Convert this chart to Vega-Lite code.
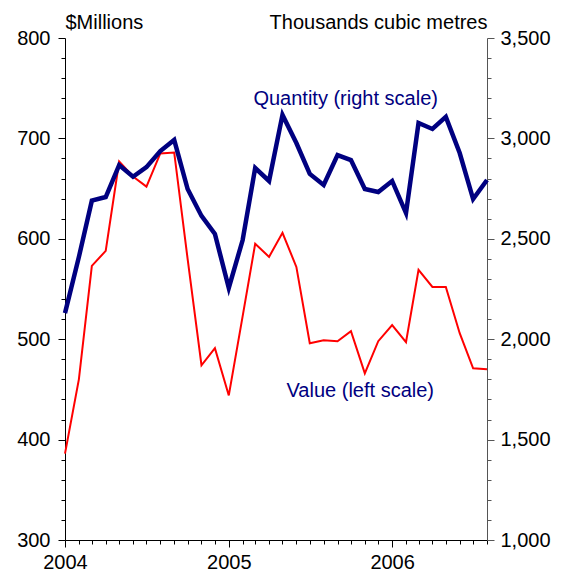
{
  "$schema": "https://vega.github.io/schema/vega-lite/v6.json",
  "width": 422,
  "height": 502,
  "autosize": {"type": "none"},
  "padding": {"left": 65, "top": 38, "right": 74, "bottom": 32},
  "background": "white",
  "config": {
    "view": {"stroke": null},
    "font": "Liberation Sans",
    "axis": {
      "labelFont": "Liberation Sans",
      "titleFont": "Liberation Sans",
      "labelFontSize": 20,
      "titleFontSize": 20,
      "titleFontWeight": "normal",
      "labelColor": "black",
      "titleColor": "black",
      "grid": false,
      "domainColor": "black",
      "tickColor": "black",
      "labelOverlap": false,
      "labelFlush": false
    }
  },
  "datasets": {
    "series": [
      {"date": "2004-01-01", "value": 386, "quantity": 2130},
      {"date": "2004-02-01", "value": 460, "quantity": 2409},
      {"date": "2004-03-01", "value": 573, "quantity": 2690},
      {"date": "2004-04-01", "value": 588, "quantity": 2708},
      {"date": "2004-05-01", "value": 677, "quantity": 2867},
      {"date": "2004-06-01", "value": 662, "quantity": 2809},
      {"date": "2004-07-01", "value": 652, "quantity": 2857},
      {"date": "2004-08-01", "value": 685, "quantity": 2937},
      {"date": "2004-09-01", "value": 686, "quantity": 2992},
      {"date": "2004-10-01", "value": 580, "quantity": 2748},
      {"date": "2004-11-01", "value": 474, "quantity": 2614},
      {"date": "2004-12-01", "value": 491, "quantity": 2524},
      {"date": "2005-01-01", "value": 444, "quantity": 2255},
      {"date": "2005-02-01", "value": 523, "quantity": 2494},
      {"date": "2005-03-01", "value": 595, "quantity": 2853},
      {"date": "2005-04-01", "value": 582, "quantity": 2788},
      {"date": "2005-05-01", "value": 606, "quantity": 3117},
      {"date": "2005-06-01", "value": 572, "quantity": 2977},
      {"date": "2005-07-01", "value": 496, "quantity": 2823},
      {"date": "2005-08-01", "value": 499, "quantity": 2768},
      {"date": "2005-09-01", "value": 498, "quantity": 2917},
      {"date": "2005-10-01", "value": 508, "quantity": 2892},
      {"date": "2005-11-01", "value": 466, "quantity": 2748},
      {"date": "2005-12-01", "value": 498, "quantity": 2733},
      {"date": "2006-01-01", "value": 514, "quantity": 2788},
      {"date": "2006-02-01", "value": 497, "quantity": 2628},
      {"date": "2006-03-01", "value": 569, "quantity": 3077},
      {"date": "2006-04-01", "value": 552, "quantity": 3047},
      {"date": "2006-05-01", "value": 552, "quantity": 3107},
      {"date": "2006-06-01", "value": 506, "quantity": 2927},
      {"date": "2006-07-01", "value": 471, "quantity": 2698},
      {"date": "2006-08-01", "value": 470, "quantity": 2793}
    ],
    "labels": [
      {"date": "2005-02-25", "value": 733, "label": "Quantity (right scale)"},
      {"date": "2005-05-10", "value": 442, "label": "Value (left scale)"}
    ]
  },
  "data": {"name": "series"},
  "encoding": {
    "x": {
      "field": "date",
      "type": "temporal",
      "scale": {"type": "utc", "domain": ["2004-01-01", "2006-08-01"]},
      "axis": {
        "title": null,
        "tickCount": {"interval": "month", "step": 1},
        "labelExpr": "utcmonth(datum.value) === 0 ? utcFormat(datum.value, '%Y') : ''",
        "tickSize": {"condition": {"test": "utcmonth(datum.value) === 0", "value": 7}, "value": 4},
        "labelPadding": 5,
        "labelAlign": "center"
      }
    }
  },
  "layer": [
    {
      "encoding": {
        "y": {
          "field": "value",
          "type": "quantitative",
          "scale": {"domain": [300, 800], "nice": false, "zero": false},
          "axis": {
            "orient": "left",
            "title": "$Millions",
            "titleAngle": 0,
            "titleX": 0,
            "titleY": -10,
            "titleAlign": "left",
            "titleBaseline": "alphabetic",
            "values": [300,320,340,360,380,400,420,440,460,480,500,520,540,560,580,600,620,640,660,680,700,720,740,760,780,800],
            "labelExpr": "datum.value % 100 === 0 ? format(datum.value, 'd') : ''",
            "tickSize": {"condition": {"test": "datum.value % 100 === 0", "value": 7}, "value": 4},
            "labelPadding": 8
          }
        }
      },
      "layer": [
        {
          "mark": {"type": "line", "color": "#ff0000", "strokeWidth": 2},
          "encoding": {}
        },
        {
          "data": {"name": "labels"},
          "mark": {"type": "text", "align": "left", "baseline": "alphabetic", "fontSize": 20, "font": "Liberation Sans", "color": "#000080"},
          "encoding": {
            "text": {"field": "label", "type": "nominal"}
          }
        }
      ]
    },
    {
      "mark": {"type": "line", "color": "#000080", "strokeWidth": 4.5},
      "encoding": {
        "y": {
          "field": "quantity",
          "type": "quantitative",
          "scale": {"domain": [1000, 3500], "nice": false, "zero": false},
          "axis": {
            "orient": "right",
            "title": "Thousands cubic metres",
            "titleAngle": 0,
            "titleX": 0,
            "titleY": -10,
            "titleAlign": "right",
            "titleBaseline": "alphabetic",
            "values": [1000,1100,1200,1300,1400,1500,1600,1700,1800,1900,2000,2100,2200,2300,2400,2500,2600,2700,2800,2900,3000,3100,3200,3300,3400,3500],
            "labelExpr": "datum.value % 500 === 0 ? format(datum.value, ',') : ''",
            "domainColor": "#555555",
            "tickColor": "#555555",
            "tickSize": {"condition": {"test": "datum.value % 500 === 0", "value": 7}, "value": 4},
            "labelPadding": 6
          }
        }
      }
    }
  ],
  "resolve": {"scale": {"y": "independent"}}
}
